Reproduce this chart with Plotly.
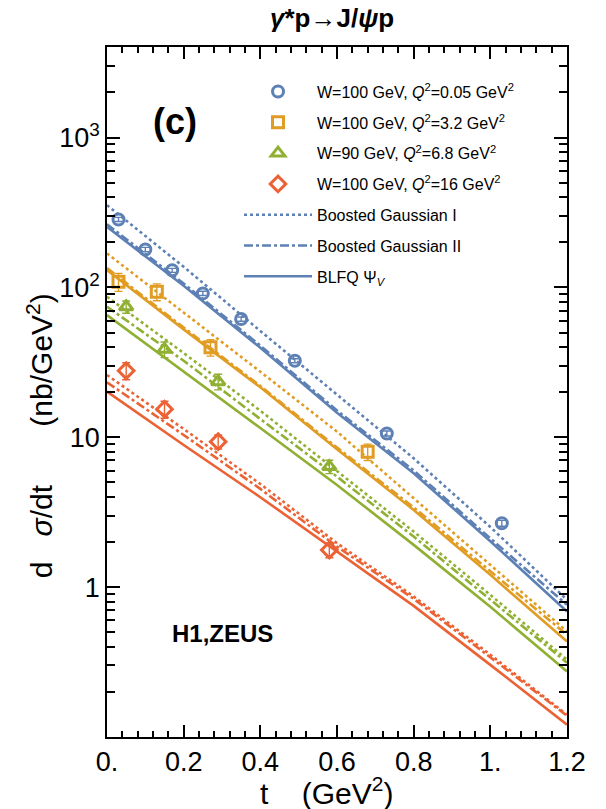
import plotly.graph_objects as go

# Colours of the four kinematic settings
C_BLUE = "#5E81B5"
C_ORANGE = "#E19C24"
C_GREEN = "#8FB032"
C_RED = "#EB6235"

# Measured points: t (GeV^2), dsigma/dt (nb/GeV^2), uncertainty
t_q005 = [0.03, 0.10, 0.17, 0.25, 0.35, 0.49, 0.73, 1.03]
v_q005 = [284, 179, 130, 91.2, 61.5, 32.4, 10.6, 2.67]
e_q005 = [9, 6, 4, 3, 2, 1.0, 0.4, 0.12]

t_q32 = [0.03, 0.13, 0.27, 0.68]
v_q32 = [109, 93.5, 39.8, 8.0]
e_q32 = [15, 12, 5, 1.0]

t_q68 = [0.05, 0.15, 0.29, 0.58]
v_q68 = [74.2, 38.6, 23.5, 6.37]
e_q68 = [7, 4.6, 2.8, 0.65]

t_q16 = [0.05, 0.15, 0.29, 0.58]
v_q16 = [27.8, 15.4, 9.35, 1.77]
e_q16 = [3.6, 2.0, 1.0, 0.2]

# Model predictions sampled in t
t_curve = [0.0, 0.2, 0.4, 0.6, 0.8, 1.0, 1.2]

bg1_q005 = [353.8, 137.2, 51.2, 19.14, 7.24, 2.52, 0.823]
bg2_q005 = [264.2, 106.0, 40.9, 15.09, 6.01, 2.115, 0.762]
blfq_q005 = [253.6, 102.5, 39.56, 14.59, 5.754, 2.026, 0.688]

bg1_q32 = [168.5, 68.1, 27.37, 10.90, 3.92, 1.408, 0.506]
bg2_q32 = [134.5, 53.95, 21.98, 8.55, 3.404, 1.274, 0.481]
blfq_q32 = [130.4, 52.48, 21.54, 8.318, 3.276, 1.208, 0.434]

bg1_q68 = [86.6, 36.48, 15.04, 5.90, 2.348, 0.888, 0.328]
bg2_q68 = [74.3, 32.42, 13.24, 5.463, 2.175, 0.823, 0.313]
blfq_q68 = [65.36, 27.54, 11.53, 4.808, 1.914, 0.739, 0.274]

bg1_q16 = [26.02, 11.36, 4.883, 1.965, 0.866, 0.354, 0.1408]
bg2_q16 = [23.26, 10.36, 4.522, 1.865, 0.836, 0.343, 0.1387]
blfq_q16 = [20.14, 8.885, 3.981, 1.727, 0.750, 0.303, 0.1208]

labels_data = [
    "W=100 GeV, <i>Q</i><sup>2</sup>=0.05 GeV<sup>2</sup>",
    "W=100 GeV, <i>Q</i><sup>2</sup>=3.2 GeV<sup>2</sup>",
    "W=90 GeV, <i>Q</i><sup>2</sup>=6.8 GeV<sup>2</sup>",
    "W=100 GeV, <i>Q</i><sup>2</sup>=16 GeV<sup>2</sup>",
]
labels_model = ["Boosted Gaussian I", "Boosted Gaussian II", "BLFQ Ψ<sub><i>V</i></sub>"]

# Tick label spellings
x_label_alias = {"0": "0.", "1": "1."}
y_label_alias = {"0.1": " ", "100": "10<sup>2</sup>", "1000": "10<sup>3</sup>"}

fig = go.Figure()

settings = [
    (C_BLUE, [bg1_q005, bg2_q005, blfq_q005]),
    (C_ORANGE, [bg1_q32, bg2_q32, blfq_q32]),
    (C_GREEN, [bg1_q68, bg2_q68, blfq_q68]),
    (C_RED, [bg1_q16, bg2_q16, blfq_q16]),
]
dashes = ["dot", "dashdot", "solid"]

# Model curves (only the first colour goes into the legend)
for i, (col, curves) in enumerate(settings):
    for j, ys in enumerate(curves):
        fig.add_trace(go.Scatter(
            x=t_curve, y=ys, mode="lines",
            line=dict(color=col, width=2.6, dash=dashes[j]),
            name=labels_model[j], showlegend=(i == 0),
            legendgroup="m%d" % j, legendrank=10 + j,
            hoverinfo="skip",
        ))

# Data points
points = [
    (t_q005, v_q005, e_q005, C_BLUE, "circle-open", 11),
    (t_q32, v_q32, e_q32, C_ORANGE, "square-open", 11),
    (t_q68, v_q68, e_q68, C_GREEN, "triangle-up-open", 12),
    (t_q16, v_q16, e_q16, C_RED, "diamond-open", 12),
]
for k, (tx, vy, ev, col, sym, sz) in enumerate(points):
    fig.add_trace(go.Scatter(
        x=tx, y=vy, mode="markers",
        marker=dict(symbol=sym, size=sz, color=col, line=dict(width=3, color=col)),
        error_y=dict(type="data", array=ev, color=col, thickness=1.4, width=4),
        name=labels_data[k], legendgroup="d%d" % k, legendrank=k + 1,
    ))

FONT = "Liberation Sans, Arial, sans-serif"

fig.update_layout(
    width=606, height=809,
    margin=dict(l=107, r=39, t=47, b=72),
    paper_bgcolor="white", plot_bgcolor="white",
    font=dict(family=FONT, color="black"),
    title=dict(
        text="<b><i>γ</i>*p→J/<i>ψ</i>p</b>",
        font=dict(size=26, family=FONT, color="black"),
        x=0.548, xref="container", xanchor="center",
        y=1 - 18 / 809, yref="container", yanchor="middle",
    ),
    legend=dict(
        x=0.287, y=0.96, xanchor="left", yanchor="top",
        font=dict(size=16, family=FONT),
        bgcolor="rgba(0,0,0,0)", traceorder="grouped",
        tracegroupgap=7, itemwidth=68,
    ),
    showlegend=True,
)

# Frame with inward major and minor ticks on all four sides
fig.update_xaxes(
    range=[0, 1.2], tickmode="linear", tick0=0, dtick=0.2,
    labelalias=x_label_alias,
    ticks="inside", ticklen=12, tickwidth=2, tickcolor="black",
    minor=dict(dtick=0.04, ticks="inside", ticklen=6, tickwidth=2, tickcolor="black"),
    showline=True, linecolor="black", linewidth=1.6, mirror="ticks",
    showgrid=False, zeroline=False,
    tickfont=dict(size=27, family=FONT),
)
fig.update_yaxes(
    type="log", range=[-1, 3.604], tickmode="linear", tick0=0, dtick=1,
    labelalias=y_label_alias,
    ticks="inside", ticklen=13, tickwidth=2, tickcolor="black",
    minor=dict(dtick="D1", ticks="inside", ticklen=8, tickwidth=2, tickcolor="black"),
    showline=True, linecolor="black", linewidth=1.6, mirror="ticks",
    showgrid=False, zeroline=False,
    tickfont=dict(size=27, family=FONT),
)

NB = "\u00a0"
fig.add_annotation(
    text="d" + NB * 3 + "<i>σ</i>/dt" + NB * 7 + "(nb/GeV<sup>2</sup>)",
    xref="paper", yref="paper", x=(40 - 107) / 460, y=(737 - 436) / 690.3,
    textangle=-90, showarrow=False, font=dict(size=30, family=FONT),
    xanchor="center", yanchor="middle",
)
fig.add_annotation(
    text="t" + NB * 4 + "(GeV<sup>2</sup>)",
    xref="paper", yref="paper", x=(326 - 107) / 460, y=(737 - 791) / 690.3,
    showarrow=False, font=dict(size=30, family=FONT),
    xanchor="center", yanchor="middle",
)
fig.add_annotation(
    text="<b>(c)</b>", xref="paper", yref="paper",
    x=(175 - 107) / 460, y=(737 - 121) / 690.3,
    showarrow=False, font=dict(size=36, family=FONT),
    xanchor="center", yanchor="middle",
)
fig.add_annotation(
    text="<b>H1,ZEUS</b>", xref="paper", yref="paper",
    x=(222 - 107) / 460, y=(737 - 633) / 690.3,
    showarrow=False, font=dict(size=24, family=FONT),
    xanchor="center", yanchor="middle",
)

fig.write_html("out.html")
